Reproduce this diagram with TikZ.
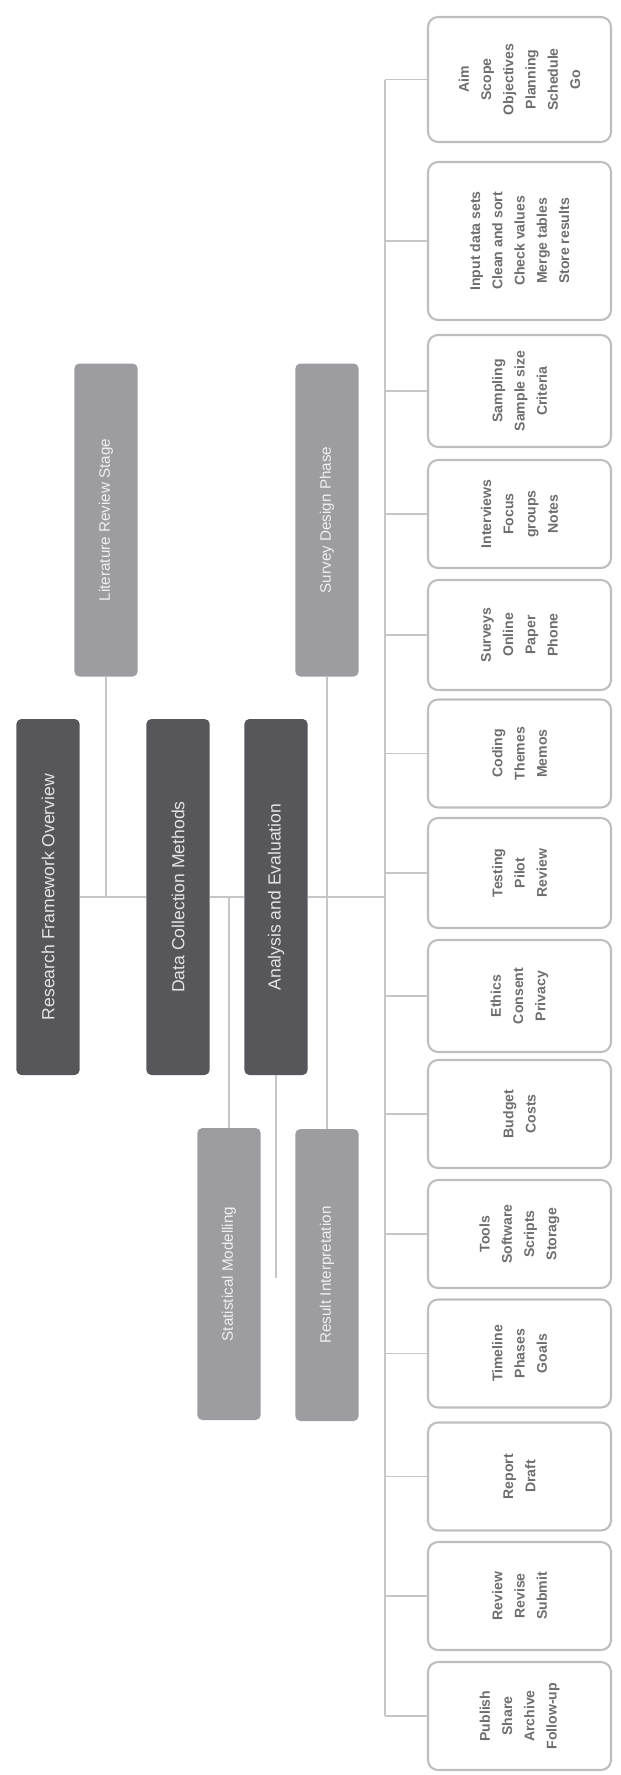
\documentclass[tikz,border=0pt]{standalone}
\usepackage{fontspec}
\setmainfont{Liberation Sans}

\definecolor{boxdark}{HTML}{57575B}
\definecolor{boxgray}{HTML}{9C9CA1}
\definecolor{linegray}{HTML}{C6C6C6}
\definecolor{leafline}{HTML}{BEBEBE}
\definecolor{leaftext}{HTML}{6E6E6E}

\begin{document}
\begin{tikzpicture}[
    x=0.3mm, y=-0.3mm,
    mainbox/.style={
        rectangle, rounded corners=1.5mm, fill=boxdark, rotate=90,
        minimum width=106.8mm, minimum height=19mm, inner sep=0pt,
        text=white!78!gray, font=\fontsize{15}{18}\selectfont
    },
    subbox/.style={
        rectangle, rounded corners=1.5mm, fill=boxgray, rotate=90,
        minimum width=93.9mm, minimum height=19mm, inner sep=0pt,
        text=white!88!gray, font=\fontsize{13}{16}\selectfont
    },
    leaf/.style={
        rectangle, rounded corners=3mm, draw=leafline, line width=1.8pt,
        fill=white, rotate=90, minimum width=32.4mm, minimum height=54.9mm,
        inner sep=0pt, align=center, text=leaftext,
        font=\fontsize{12}{19}\selectfont\bfseries
    },
    link/.style={draw=linegray, line width=1.6pt},
]
\useasboundingbox (0,0) rectangle (621,1775);

% Main row
\node[mainbox] (d1) at (48, 897)  {Research Framework Overview};
\node[mainbox] (d2) at (178, 897) {Data Collection Methods};
\node[mainbox] (d3) at (276, 897) {Analysis and Evaluation};

% Side boxes
\node[subbox] (g1) at (106, 520)  {Literature Review Stage};
\node[subbox] (g2) at (327, 520)  {Survey Design Phase};
\node[subbox, minimum width=87.6mm] (g3) at (229, 1274) {Statistical Modelling};
\node[subbox, minimum width=87.6mm] (g4) at (327, 1275) {Result Interpretation};

% Leaves
\node[leaf, minimum width=37.5mm] (r1) at (519.5, 79.5)
    {Aim\\Scope\\Objectives\\Planning\\Schedule\\Go};
\node[leaf, minimum width=47.4mm] (r2) at (519.5, 241)
    {Input data sets\\Clean and sort\\Check values\\Merge tables\\Store results};
\node[leaf, minimum width=33.6mm] (r3) at (519.5, 391)  {Sampling\\Sample size\\Criteria};
\node[leaf] (r4)  at (519.5, 514)    {Interviews\\Focus\\groups\\Notes};
\node[leaf, minimum width=33mm] (r5) at (519.5, 635) {Surveys\\Online\\Paper\\Phone};
\node[leaf] (r6)  at (519.5, 753.5)  {Coding\\Themes\\Memos};
\node[leaf, minimum width=33mm] (r7) at (519.5, 873) {Testing\\Pilot\\Review};
\node[leaf, minimum width=33.6mm] (r8) at (519.5, 996) {Ethics\\Consent\\Privacy};
\node[leaf] (r9)  at (519.5, 1114)   {Budget\\Costs};
\node[leaf] (r10) at (519.5, 1234)   {Tools\\Software\\Scripts\\Storage};
\node[leaf] (r11) at (519.5, 1353.5) {Timeline\\Phases\\Goals};
\node[leaf] (r12) at (519.5, 1476.5) {Report\\Draft};
\node[leaf] (r13) at (519.5, 1596)   {Review\\Revise\\Submit};
\node[leaf] (r14) at (519.5, 1716)   {Publish\\Share\\Archive\\Follow-up};

\coordinate (sp) at (385, 897);
\coordinate (d3end) at (276, 1278);

% Main line
\draw[link] (d1) -- (d2);
\draw[link] (d2) -- (d3);
\draw[link] (d3) -- (sp);

% Side connectors
\draw[link] (g1) -- (g1 |- sp);
\draw[link] (g2) -- (g2 |- sp);
\draw[link] (g3) -- (g3 |- sp);
\draw[link] (g4) -- (g4 |- sp);
\draw[link] (d3) -- (d3end);

% Spine and branches
\draw[link] (sp |- r1) -- (sp |- r14);
\draw[link] (sp |- r1) -- (r1);
\draw[link] (sp |- r2) -- (r2);
\draw[link] (sp |- r3) -- (r3);
\draw[link] (sp |- r4) -- (r4);
\draw[link] (sp |- r5) -- (r5);
\draw[link] (sp |- r6) -- (r6);
\draw[link] (sp |- r7) -- (r7);
\draw[link] (sp |- r8) -- (r8);
\draw[link] (sp |- r9) -- (r9);
\draw[link] (sp |- r10) -- (r10);
\draw[link] (sp |- r11) -- (r11);
\draw[link] (sp |- r12) -- (r12);
\draw[link] (sp |- r13) -- (r13);
\draw[link] (sp |- r14) -- (r14);

\end{tikzpicture}
\end{document}
